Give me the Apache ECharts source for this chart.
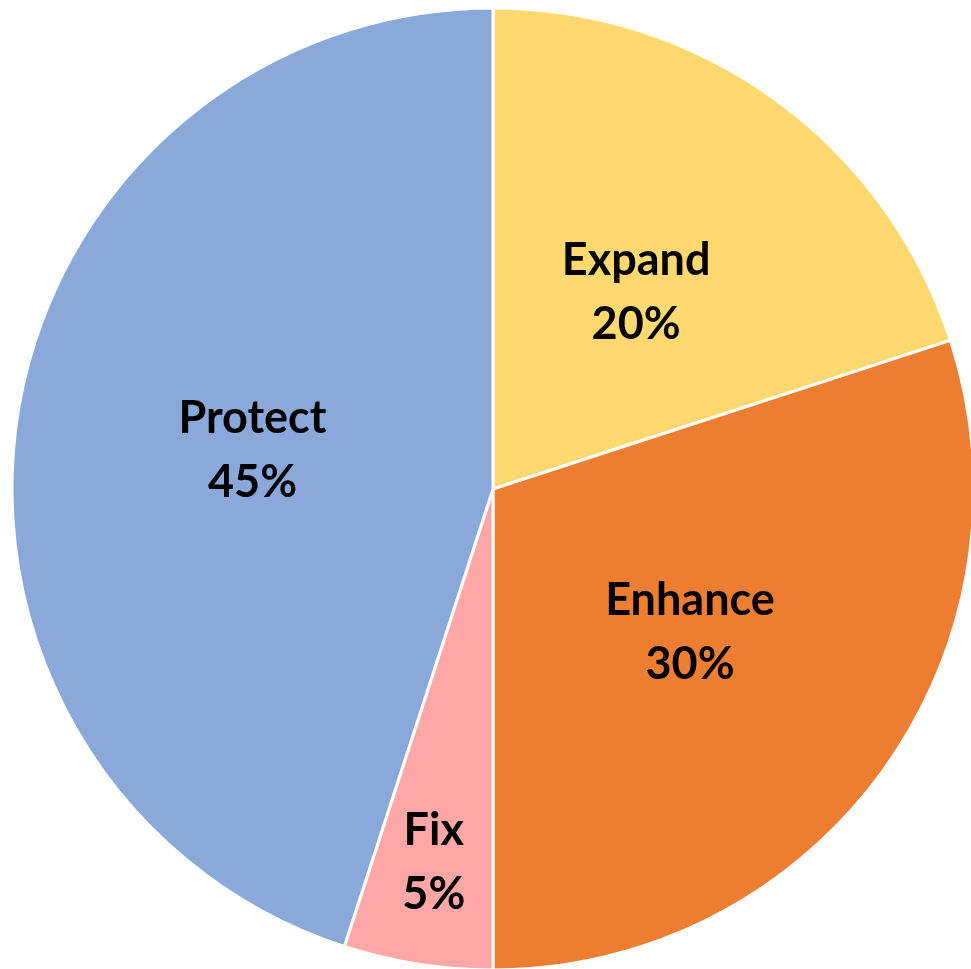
<!DOCTYPE html>
<html><head><meta charset="utf-8">
<script src="https://cdn.jsdelivr.net/npm/echarts@6/dist/echarts.min.js"></script>
<style>html,body{margin:0;padding:0;background:#fff}#c{width:971px;height:969px}</style>
</head><body><div id="c"></div>
<script>
const categories = ['Expand', 'Enhance', 'Fix', 'Protect'];
const values = [20, 30, 5, 45];
const colors = ['#FFD970', '#ED7D31', '#FFA6A6', '#8AA8D9'];

const chart = echarts.init(document.getElementById('c'));
const labelStyle = {
  fontFamily: 'Lato', fontWeight: 'bold', fontSize: 45, color: '#000', lineHeight: 64,
  formatter: p => p.name + '\n' + p.value + '%'
};
chart.setOption({
  animation: false,
  series: [{
    type: 'pie', center: [493, 489], radius: 481, startAngle: 90, clockwise: true,
    itemStyle: { borderColor: '#fff', borderWidth: 3 },
    label: Object.assign({ position: 'inside' }, labelStyle),
    labelLine: { show: false },
    data: categories.map((n, i) => ({
      name: n, value: values[i], itemStyle: { color: colors[i] },
      label: { show: n !== 'Fix' }
    }))
  }, {
    type: 'pie', center: [493, 489], radius: [270, 481], startAngle: 90, clockwise: true, silent: true,
    itemStyle: { color: 'transparent', borderWidth: 0 },
    label: Object.assign({ position: 'inside' }, labelStyle),
    labelLine: { show: false },
    data: categories.map((n, i) => ({
      name: n, value: values[i], label: { show: n === 'Fix' }
    }))
  }]
});
</script></body></html>
